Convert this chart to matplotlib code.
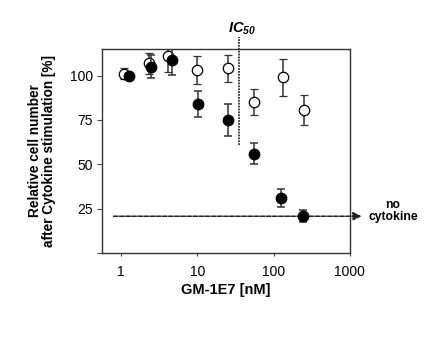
import matplotlib
matplotlib.use("Agg")
import matplotlib.pyplot as plt

plt.rcParams['font.family'] = ['Liberation Sans', 'DejaVu Sans']
plt.rcParams['mathtext.fontset'] = 'custom'
plt.rcParams['mathtext.it'] = 'Liberation Sans:italic:bold'
plt.rcParams['mathtext.rm'] = 'Liberation Sans:italic:bold'

## Values
conc_open = [1.1, 2.35, 4.2, 10, 25, 56, 132, 250]
cells_open = [101, 107, 111, 103, 104, 85, 99, 80.5]
err_open = [3, 6, 9, 8, 7.5, 7.5, 10.5, 8.5]

conc_filled = [1.26, 2.47, 4.66, 10.1, 25, 56, 127, 240]
cells_filled = [99.5, 105, 108.5, 84, 75, 56, 31, 20.7]
err_filled = [2, 6.5, 8, 7.5, 9, 6, 5, 3.5]

ic50 = 35.6
ic50_span = [60.8, 121.5]
no_cyto_level = 20.7
no_cyto_span = [0.8, 1420]

fig = plt.figure(figsize=(4.39, 3.40), dpi=100)
ax = fig.add_axes([0.2317, 0.256, 0.5653, 0.600])

ax.set_xscale('log')
ax.set_xlim(0.56, 1000)
ax.set_ylim(0, 115)

## no cytokine baseline with arrow
ax.annotate('', xy=(no_cyto_span[1], no_cyto_level), xytext=(no_cyto_span[0], no_cyto_level),
            xycoords='data', annotation_clip=False,
            arrowprops=dict(arrowstyle='-|>', linestyle=(0, (3, 1)), color='#222222',
                            lw=1.1, mutation_scale=12, shrinkA=0, shrinkB=0))
ax.text(1.173, 0.206, 'no\ncytokine', transform=ax.transAxes, ha='center', va='center',
        fontsize=8.7, fontweight='bold', linespacing=0.95)

## IC50 marker
ax.plot([ic50, ic50], ic50_span, color='#333333', lw=1.3, linestyle=(0, (1, 0.6)),
        clip_on=False, zorder=2)
ax.text(38.5, 124, r'$IC_{50}$', ha='center', va='baseline', fontsize=10.5)

ax.errorbar(conc_open, cells_open, yerr=err_open, fmt='o', mfc='white', mec='black',
            ms=7.5, mew=0.9, ecolor='#333333', elinewidth=1.1, capsize=3, capthick=1.1,
            zorder=3)
ax.errorbar(conc_filled, cells_filled, yerr=err_filled, fmt='o', mfc='black', mec='black',
            ms=7.5, ecolor='#333333', elinewidth=1.1, capsize=3, capthick=1.1, zorder=4)

ax.set_yticks([0, 25, 50, 75, 100])
ax.set_yticklabels(['', '25', '50', '75', '100'])
ax.set_xticks([1, 10, 100, 1000])
ax.set_xticklabels(['1', '10', '100', '1000'])
ax.minorticks_off()
ax.tick_params(axis='both', labelsize=10, direction='out', width=0.8, color='#444444')
ax.tick_params(axis='y', length=3.5, pad=3)
ax.tick_params(axis='x', length=2.5, pad=6)

for s in ax.spines.values():
    s.set_linewidth(1.0)
    s.set_color('#333333')

ax.set_ylabel('Relative cell number\nafter Cytokine stimulation [%]', fontsize=9.8,
              fontweight='bold', linespacing=0.95, labelpad=10)
ax.set_xlabel('GM-1E7 [nM]', fontsize=10.5, fontweight='bold', labelpad=3)

fig.savefig('out.png', dpi=100)
